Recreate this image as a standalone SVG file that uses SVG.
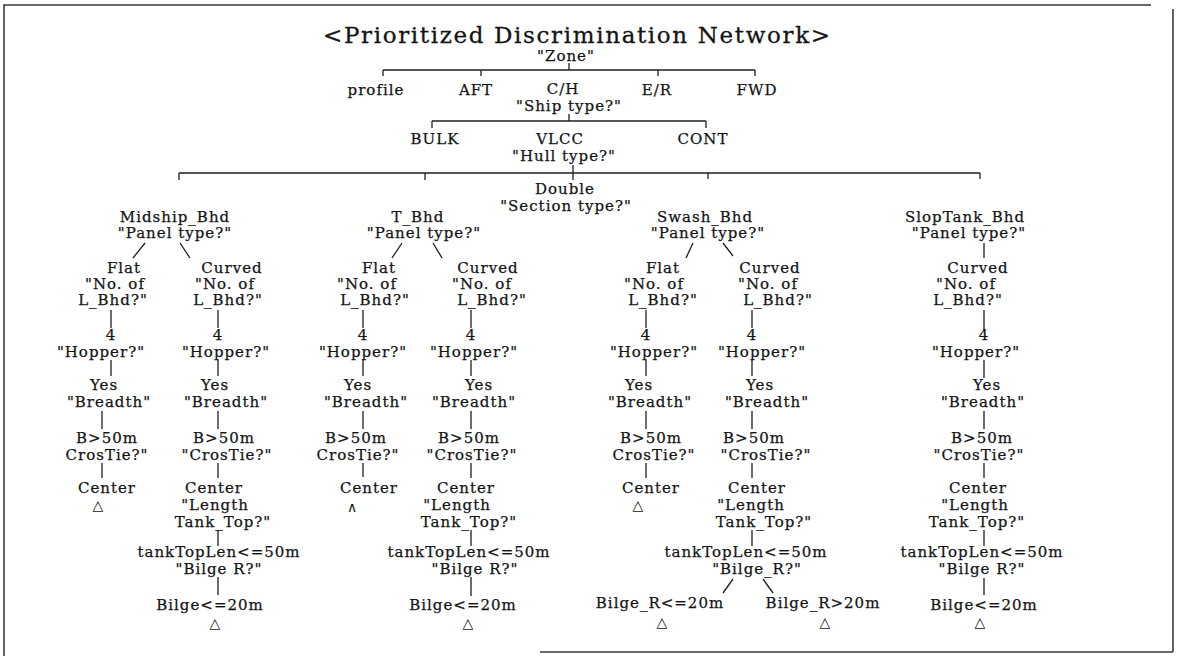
<svg xmlns="http://www.w3.org/2000/svg" width="1178" height="656" viewBox="0 0 1178 656">
  <style>
    .t { font-family: "DejaVu Serif", "Liberation Serif", serif; font-size: 15px; letter-spacing: 1px; text-anchor: middle; fill: #141414; stroke: #141414; stroke-width: 0.25; }
    .title { font-family: "DejaVu Serif", "Liberation Serif", serif; font-size: 23px; fill: #141414; stroke: #141414; stroke-width: 0.3; }
    .sym { font-family: "DejaVu Sans", sans-serif; font-size: 14px; text-anchor: middle; fill: #141414; }
    .ln { stroke: #1e1e1e; stroke-width: 1.3; fill: none; }
    .frame { stroke: #3a3a3a; stroke-width: 1.6; fill: none; }
  </style>
  <rect width="1178" height="656" fill="#ffffff"/>

  <!-- page frame -->
  <g id="frame">
    <polyline class="frame" points="1151,5 4,5 4,656"/>
    <line class="frame" x1="1173" y1="9" x2="1173" y2="652"/>
    <line class="frame" x1="540" y1="652" x2="1173" y2="652"/>
  </g>

  <!-- tree connectors -->
  <g id="connectors">
    <line class="ln" x1="569" y1="63" x2="569" y2="70"/>
    <line class="ln" x1="383" y1="70" x2="755" y2="70"/>
    <line class="ln" x1="383" y1="70" x2="383" y2="76"/>
    <line class="ln" x1="481" y1="70" x2="481" y2="76"/>
    <line class="ln" x1="658" y1="70" x2="658" y2="76"/>
    <line class="ln" x1="755" y1="70" x2="755" y2="76"/>

    <line class="ln" x1="569" y1="114" x2="569" y2="121"/>
    <line class="ln" x1="432" y1="121" x2="706" y2="121"/>
    <line class="ln" x1="432" y1="121" x2="432" y2="128"/>
    <line class="ln" x1="706" y1="121" x2="706" y2="128"/>

    <line class="ln" x1="573" y1="165" x2="573" y2="180"/>
    <line class="ln" x1="179" y1="173" x2="980" y2="173"/>
    <line class="ln" x1="179" y1="173" x2="179" y2="180"/>
    <line class="ln" x1="425" y1="173" x2="425" y2="180"/>
    <line class="ln" x1="708" y1="173" x2="708" y2="179"/>
    <line class="ln" x1="980" y1="173" x2="980" y2="179"/>

    <!-- Midship_Bhd -->
    <line class="ln" x1="145" y1="243" x2="133" y2="258"/>
    <line class="ln" x1="180" y1="243" x2="190" y2="258"/>
    <line class="ln" x1="111" y1="310" x2="111" y2="328"/>
    <line class="ln" x1="111" y1="360" x2="111" y2="376"/>
    <line class="ln" x1="102" y1="411" x2="102" y2="429"/>
    <line class="ln" x1="102" y1="463" x2="102" y2="478"/>
    <line class="ln" x1="218" y1="310" x2="218" y2="328"/>
    <line class="ln" x1="218" y1="360" x2="218" y2="376"/>
    <line class="ln" x1="218" y1="411" x2="218" y2="429"/>
    <line class="ln" x1="218" y1="463" x2="218" y2="478"/>
    <line class="ln" x1="218" y1="530" x2="218" y2="546"/>
    <line class="ln" x1="218" y1="577" x2="218" y2="595"/>

    <!-- T_Bhd -->
    <line class="ln" x1="402" y1="243" x2="392" y2="258"/>
    <line class="ln" x1="433" y1="243" x2="442" y2="258"/>
    <line class="ln" x1="363" y1="310" x2="363" y2="328"/>
    <line class="ln" x1="363" y1="360" x2="363" y2="376"/>
    <line class="ln" x1="363" y1="411" x2="363" y2="429"/>
    <line class="ln" x1="363" y1="463" x2="363" y2="477"/>
    <line class="ln" x1="471" y1="310" x2="471" y2="328"/>
    <line class="ln" x1="471" y1="360" x2="471" y2="376"/>
    <line class="ln" x1="471" y1="411" x2="471" y2="429"/>
    <line class="ln" x1="471" y1="463" x2="471" y2="478"/>
    <line class="ln" x1="471" y1="530" x2="471" y2="546"/>
    <line class="ln" x1="471" y1="577" x2="471" y2="596"/>

    <!-- Swash_Bhd -->
    <line class="ln" x1="693" y1="243" x2="686" y2="258"/>
    <line class="ln" x1="723" y1="243" x2="733" y2="256"/>
    <line class="ln" x1="646" y1="310" x2="646" y2="328"/>
    <line class="ln" x1="646" y1="360" x2="646" y2="376"/>
    <line class="ln" x1="646" y1="411" x2="646" y2="429"/>
    <line class="ln" x1="646" y1="463" x2="646" y2="478"/>
    <line class="ln" x1="752" y1="310" x2="752" y2="328"/>
    <line class="ln" x1="752" y1="360" x2="752" y2="376"/>
    <line class="ln" x1="752" y1="411" x2="752" y2="429"/>
    <line class="ln" x1="752" y1="463" x2="752" y2="478"/>
    <line class="ln" x1="752" y1="530" x2="752" y2="546"/>
    <line class="ln" x1="733" y1="579" x2="723" y2="593"/>
    <line class="ln" x1="763" y1="579" x2="773" y2="593"/>

    <!-- SlopTank_Bhd -->
    <line class="ln" x1="984" y1="243" x2="984" y2="258"/>
    <line class="ln" x1="984" y1="310" x2="984" y2="330"/>
    <line class="ln" x1="984" y1="360" x2="984" y2="378"/>
    <line class="ln" x1="984" y1="411" x2="984" y2="429"/>
    <line class="ln" x1="984" y1="463" x2="984" y2="478"/>
    <line class="ln" x1="984" y1="530" x2="984" y2="546"/>
    <line class="ln" x1="984" y1="578" x2="984" y2="595"/>
  </g>

  <g id="title"><text class="title" x="323" y="43" textLength="507" lengthAdjust="spacing">&lt;Prioritized Discrimination Network&gt;</text></g>

  <!-- upper levels -->
  <g id="zone"><text class="t" x="566" y="61">"Zone"</text></g>
  <g id="profile"><text class="t" x="376" y="95">profile</text></g>
  <g id="aft"><text class="t" x="476" y="95">AFT</text></g>
  <g id="ch"><text class="t" x="563" y="94">C/H</text><text class="t" x="569" y="111">"Ship type?"</text></g>
  <g id="er"><text class="t" x="657" y="95">E/R</text></g>
  <g id="fwd"><text class="t" x="757" y="95">FWD</text></g>
  <g id="bulk"><text class="t" x="435" y="144">BULK</text></g>
  <g id="vlcc"><text class="t" x="560" y="144">VLCC</text><text class="t" x="564" y="161">"Hull type?"</text></g>
  <g id="cont"><text class="t" x="703" y="144">CONT</text></g>
  <g id="double"><text class="t" x="565" y="194">Double</text><text class="t" x="566" y="211">"Section type?"</text></g>

  <!-- Midship_Bhd branch -->
  <g id="mid-head"><text class="t" x="175" y="222">Midship_Bhd</text><text class="t" x="175" y="238">"Panel type?"</text></g>
  <g id="mid-flat"><text class="t" x="124" y="273">Flat</text><text class="t" x="115" y="289">"No. of</text><text class="t" x="113" y="305">L_Bhd?"</text></g>
  <g id="mid-flat-4"><text class="t" x="111" y="340">4</text><text class="t" x="101" y="357">"Hopper?"</text></g>
  <g id="mid-flat-yes"><text class="t" x="104" y="390">Yes</text><text class="t" x="109" y="407">"Breadth"</text></g>
  <g id="mid-flat-b50"><text class="t" x="107" y="443">B&gt;50m</text><text class="t" x="107" y="460">CrosTie?"</text></g>
  <g id="mid-flat-center"><text class="t" x="107" y="493">Center</text><text class="sym" x="98" y="510">△</text></g>
  <g id="mid-cur"><text class="t" x="232" y="273">Curved</text><text class="t" x="225" y="289">"No. of</text><text class="t" x="228" y="305">L_Bhd?"</text></g>
  <g id="mid-cur-4"><text class="t" x="218" y="340">4</text><text class="t" x="226" y="357">"Hopper?"</text></g>
  <g id="mid-cur-yes"><text class="t" x="215" y="390">Yes</text><text class="t" x="226" y="407">"Breadth"</text></g>
  <g id="mid-cur-b50"><text class="t" x="224" y="443">B&gt;50m</text><text class="t" x="227" y="460">"CrosTie?"</text></g>
  <g id="mid-cur-center"><text class="t" x="214" y="493">Center</text><text class="t" x="215" y="510">"Length</text><text class="t" x="223" y="527">Tank_Top?"</text></g>
  <g id="mid-cur-ttl"><text class="t" x="219" y="557">tankTopLen&lt;=50m</text><text class="t" x="219" y="574">"Bilge R?"</text></g>
  <g id="mid-cur-bilge"><text class="t" x="210" y="610">Bilge&lt;=20m</text><text class="sym" x="215" y="628">△</text></g>

  <!-- T_Bhd branch -->
  <g id="t-head"><text class="t" x="418" y="222">T_Bhd</text><text class="t" x="424" y="238">"Panel type?"</text></g>
  <g id="t-flat"><text class="t" x="379" y="273">Flat</text><text class="t" x="367" y="289">"No. of</text><text class="t" x="375" y="305">L_Bhd?"</text></g>
  <g id="t-flat-4"><text class="t" x="363" y="340">4</text><text class="t" x="363" y="357">"Hopper?"</text></g>
  <g id="t-flat-yes"><text class="t" x="358" y="390">Yes</text><text class="t" x="366" y="407">"Breadth"</text></g>
  <g id="t-flat-b50"><text class="t" x="356" y="443">B&gt;50m</text><text class="t" x="358" y="460">CrosTie?"</text></g>
  <g id="t-flat-center"><text class="t" x="369" y="493">Center</text><text class="sym" x="352" y="512">∧</text></g>
  <g id="t-cur"><text class="t" x="488" y="273">Curved</text><text class="t" x="482" y="289">"No. of</text><text class="t" x="492" y="305">L_Bhd?"</text></g>
  <g id="t-cur-4"><text class="t" x="471" y="340">4</text><text class="t" x="474" y="357">"Hopper?"</text></g>
  <g id="t-cur-yes"><text class="t" x="479" y="390">Yes</text><text class="t" x="474" y="407">"Breadth"</text></g>
  <g id="t-cur-b50"><text class="t" x="469" y="443">B&gt;50m</text><text class="t" x="472" y="460">"CrosTie?"</text></g>
  <g id="t-cur-center"><text class="t" x="466" y="493">Center</text><text class="t" x="457" y="510">"Length</text><text class="t" x="469" y="527">Tank_Top?"</text></g>
  <g id="t-cur-ttl"><text class="t" x="469" y="557">tankTopLen&lt;=50m</text><text class="t" x="475" y="574">"Bilge R?"</text></g>
  <g id="t-cur-bilge"><text class="t" x="463" y="610">Bilge&lt;=20m</text><text class="sym" x="468" y="628">△</text></g>

  <!-- Swash_Bhd branch -->
  <g id="sw-head"><text class="t" x="705" y="222">Swash_Bhd</text><text class="t" x="708" y="238">"Panel type?"</text></g>
  <g id="sw-flat"><text class="t" x="663" y="273">Flat</text><text class="t" x="654" y="289">"No. of</text><text class="t" x="663" y="305">L_Bhd?"</text></g>
  <g id="sw-flat-4"><text class="t" x="646" y="340">4</text><text class="t" x="654" y="357">"Hopper?"</text></g>
  <g id="sw-flat-yes"><text class="t" x="639" y="390">Yes</text><text class="t" x="650" y="407">"Breadth"</text></g>
  <g id="sw-flat-b50"><text class="t" x="651" y="443">B&gt;50m</text><text class="t" x="654" y="460">CrosTie?"</text></g>
  <g id="sw-flat-center"><text class="t" x="651" y="493">Center</text><text class="sym" x="638" y="510">△</text></g>
  <g id="sw-cur"><text class="t" x="770" y="273">Curved</text><text class="t" x="768" y="289">"No. of</text><text class="t" x="778" y="305">L_Bhd?"</text></g>
  <g id="sw-cur-4"><text class="t" x="752" y="340">4</text><text class="t" x="762" y="357">"Hopper?"</text></g>
  <g id="sw-cur-yes"><text class="t" x="760" y="390">Yes</text><text class="t" x="767" y="407">"Breadth"</text></g>
  <g id="sw-cur-b50"><text class="t" x="754" y="443">B&gt;50m</text><text class="t" x="766" y="460">"CrosTie?"</text></g>
  <g id="sw-cur-center"><text class="t" x="757" y="493">Center</text><text class="t" x="751" y="510">"Length</text><text class="t" x="764" y="527">Tank_Top?"</text></g>
  <g id="sw-cur-ttl"><text class="t" x="746" y="557">tankTopLen&lt;=50m</text><text class="t" x="757" y="574">"Bilge_R?"</text></g>
  <g id="sw-bilge-le"><text class="t" x="660" y="608">Bilge_R&lt;=20m</text><text class="sym" x="662" y="627">△</text></g>
  <g id="sw-bilge-gt"><text class="t" x="823" y="608">Bilge_R&gt;20m</text><text class="sym" x="825" y="627">△</text></g>

  <!-- SlopTank_Bhd branch -->
  <g id="slop-head"><text class="t" x="965" y="222">SlopTank_Bhd</text><text class="t" x="969" y="238">"Panel type?"</text></g>
  <g id="slop-cur"><text class="t" x="978" y="273">Curved</text><text class="t" x="966" y="289">"No. of</text><text class="t" x="968" y="305">L_Bhd?"</text></g>
  <g id="slop-4"><text class="t" x="984" y="340">4</text><text class="t" x="976" y="357">"Hopper?"</text></g>
  <g id="slop-yes"><text class="t" x="987" y="390">Yes</text><text class="t" x="983" y="407">"Breadth"</text></g>
  <g id="slop-b50"><text class="t" x="982" y="443">B&gt;50m</text><text class="t" x="979" y="460">"CrosTie?"</text></g>
  <g id="slop-center"><text class="t" x="978" y="493">Center</text><text class="t" x="975" y="510">"Length</text><text class="t" x="977" y="527">Tank_Top?"</text></g>
  <g id="slop-ttl"><text class="t" x="982" y="557">tankTopLen&lt;=50m</text><text class="t" x="982" y="574">"Bilge R?"</text></g>
  <g id="slop-bilge"><text class="t" x="984" y="610">Bilge&lt;=20m</text><text class="sym" x="980" y="627">△</text></g>
</svg>
